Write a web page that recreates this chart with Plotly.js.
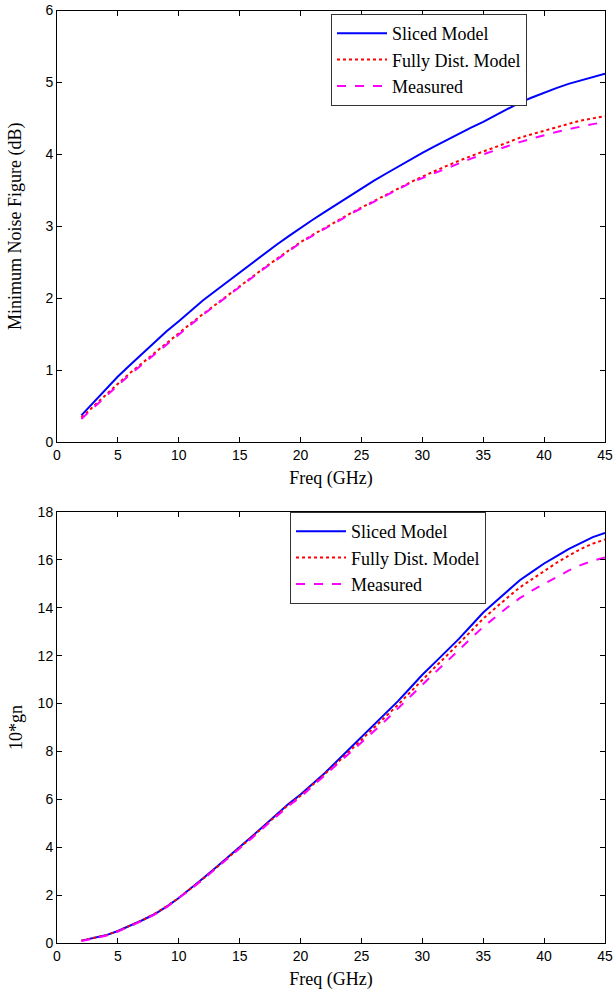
<!DOCTYPE html>
<html>
<head>
<meta charset="utf-8">
<script src="https://cdn.plot.ly/plotly-3.0.1.min.js"></script>
<style>html,body{margin:0;padding:0;background:#fff;}#chart{width:615px;height:991px;}</style>
</head>
<body>
<div id="chart"></div>
<script>
var freq = [2,3,4,5,6,7,8,9,10,11,12,13,14,15,16,17,18,19,20,21,22,23,24,25,26,27,28,29,30,31,32,33,34,35,36,37,38,39,40,41,42,43,44,45];

var nfSliced = [0.37,0.55,0.73,0.91,1.07,1.23,1.39,1.54,1.68,1.83,1.97,2.10,2.23,2.36,2.49,2.62,2.74,2.86,2.98,3.09,3.20,3.31,3.41,3.52,3.63,3.73,3.83,3.93,4.02,4.11,4.20,4.28,4.37,4.45,4.54,4.64,4.72,4.79,4.86,4.92,4.98,5.03,5.08,5.12];
var nfFully = [0.34,0.50,0.66,0.81,0.96,1.10,1.24,1.38,1.51,1.65,1.78,1.91,2.04,2.17,2.30,2.42,2.54,2.66,2.78,2.88,2.98,3.08,3.17,3.26,3.35,3.43,3.52,3.61,3.69,3.77,3.84,3.91,3.98,4.04,4.10,4.17,4.23,4.28,4.33,4.38,4.43,4.47,4.50,4.53];
var nfMeasured = [0.32,0.48,0.64,0.79,0.94,1.08,1.22,1.36,1.50,1.64,1.77,1.90,2.03,2.16,2.29,2.41,2.53,2.65,2.77,2.87,2.97,3.07,3.16,3.25,3.34,3.42,3.52,3.60,3.67,3.74,3.81,3.88,3.94,4.00,4.06,4.12,4.17,4.22,4.27,4.31,4.35,4.39,4.42,4.45];

var gnSliced = [0.10,0.20,0.32,0.50,0.72,0.95,1.20,1.52,1.88,2.28,2.70,3.13,3.56,4.00,4.45,4.90,5.35,5.80,6.20,6.65,7.10,7.60,8.10,8.60,9.10,9.60,10.10,10.65,11.20,11.70,12.20,12.70,13.25,13.80,14.25,14.70,15.15,15.50,15.85,16.15,16.45,16.70,16.95,17.12];
var gnFully = [0.10,0.20,0.32,0.50,0.72,0.95,1.22,1.53,1.88,2.27,2.68,3.11,3.54,3.98,4.42,4.87,5.32,5.77,6.15,6.60,7.05,7.52,8.00,8.48,8.97,9.46,9.95,10.47,11.00,11.50,12.00,12.50,13.02,13.55,14.00,14.43,14.85,15.20,15.55,15.87,16.17,16.45,16.68,16.85];
var gnMeasured = [0.08,0.20,0.30,0.48,0.70,0.93,1.18,1.50,1.88,2.25,2.66,3.08,3.50,3.94,4.38,4.83,5.28,5.72,6.10,6.55,7.00,7.45,7.90,8.35,8.83,9.30,9.80,10.30,10.80,11.28,11.75,12.25,12.73,13.20,13.62,14.02,14.40,14.72,15.00,15.28,15.55,15.78,15.97,16.10];

var seriesNames = ["Sliced Model", "Fully Dist. Model", "Measured"];
var xTitle = "Freq (GHz)";
var yTitleTop = "Minimum Noise Figure (dB)";
var yTitleBottom = "10*gn";

var styles = [
  {color: "#0000ff", dash: "solid", width: 2},
  {color: "#ff0000", dash: "dot", width: 2},
  {color: "#ff00ff", dash: "dash", width: 2}
];

var traces = [];
[nfSliced, nfFully, nfMeasured].forEach(function(s, i){
  traces.push({x: freq, y: s, type: "scatter", mode: "lines", name: seriesNames[i],
    line: styles[i], xaxis: "x", yaxis: "y", legend: "legend"});
});
[gnSliced, gnFully, gnMeasured].forEach(function(s, i){
  traces.push({x: freq, y: s, type: "scatter", mode: "lines", name: seriesNames[i],
    line: styles[i], xaxis: "x2", yaxis: "y2", legend: "legend2"});
});

var tickFont = {family: "Liberation Sans, Arial, sans-serif", size: 14, color: "#000"};
var titleFont = {family: "Liberation Serif, Times New Roman, serif", size: 18, color: "#000"};

function xax(anchor){
  return {range: [0, 45], dtick: 5, tick0: 0, anchor: anchor, showline: true, linecolor: "#000", linewidth: 1,
    mirror: "ticks", ticks: "inside", ticklen: 5, tickcolor: "#000", showgrid: false, zeroline: false,
    tickfont: tickFont, title: {text: xTitle, font: titleFont, standoff: 9}};
}
function yax(anchor, range, dtick, domain, title, standoff){
  return {range: range, dtick: dtick, tick0: 0, anchor: anchor, domain: domain, showline: true, linecolor: "#000", linewidth: 1,
    mirror: "ticks", ticks: "inside", ticklen: 5, tickcolor: "#000", showgrid: false, zeroline: false,
    tickfont: tickFont, title: {text: title, font: titleFont, standoff: standoff}};
}

var H = 991;
var legendBase = {bgcolor: "#fff", bordercolor: "#333", borderwidth: 1, xanchor: "left", yanchor: "top",
  font: {family: "Liberation Serif, Times New Roman, serif", size: 18, color: "#000"}, tracegroupgap: 0,
  itemwidth: 50};

var layout = {
  width: 615, height: 991,
  margin: {l: 57, r: 10, t: 0, b: 0},
  paper_bgcolor: "#fff", plot_bgcolor: "#fff",
  showlegend: true,
  xaxis: xax("y"),
  yaxis: yax("x", [0, 6], 1, [1 - 442/H, 1 - 10.5/H], yTitleTop, 19),
  xaxis2: xax("y2"),
  yaxis2: yax("x2", [0, 18], 2, [1 - 943/H, 1 - 512/H], yTitleBottom, 10),
  legend: Object.assign({}, legendBase, {x: (331-57)/548, y: 1 - 14/H}),
  legend2: Object.assign({}, legendBase, {x: (290-57)/548, y: 1 - 512/H})
};

Plotly.newPlot("chart", traces, layout, {displayModeBar: false, staticPlot: true});
</script>
</body>
</html>
